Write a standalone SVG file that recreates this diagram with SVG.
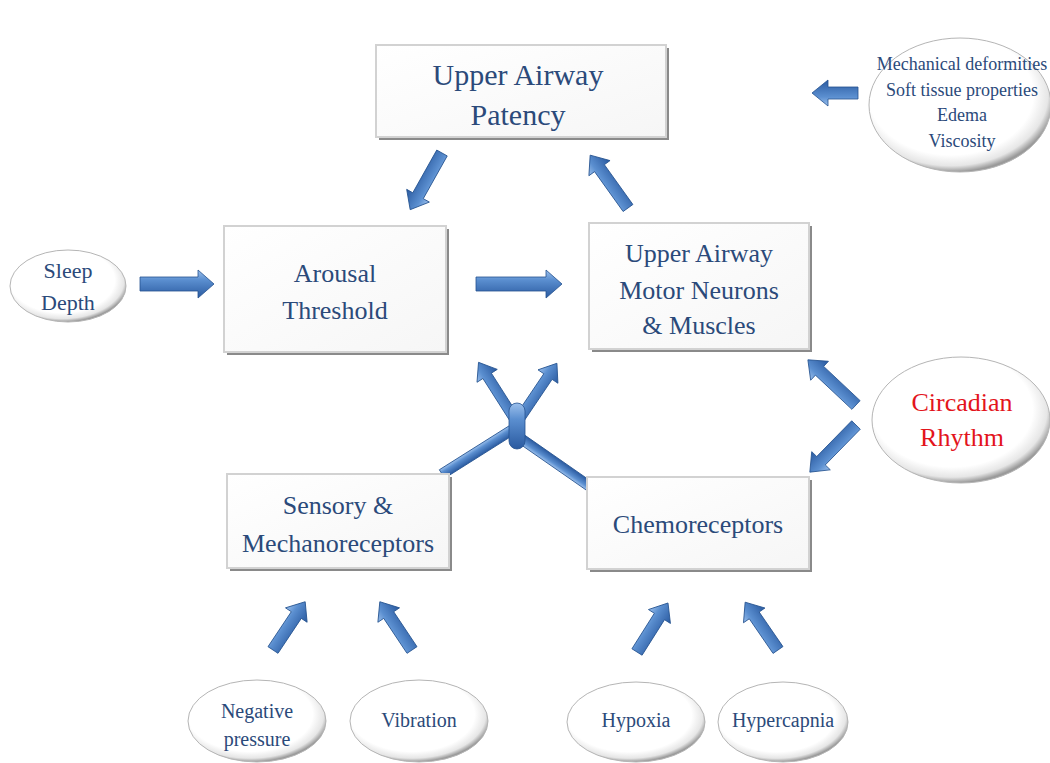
<svg xmlns="http://www.w3.org/2000/svg" width="1050" height="763" viewBox="0 0 1050 763">
<defs>
<linearGradient id="ag" x1="0" y1="0" x2="0" y2="1">
<stop offset="0" stop-color="#9cc0ec"/>
<stop offset="0.35" stop-color="#5b8fd0"/>
<stop offset="1" stop-color="#2a5aa0"/>
</linearGradient>
<linearGradient id="bg" x1="0" y1="0" x2="1" y2="1">
<stop offset="0" stop-color="#ffffff"/>
<stop offset="1" stop-color="#f6f6f6"/>
</linearGradient>
<radialGradient id="eg" cx="0.45" cy="0.42" r="0.58">
<stop offset="0" stop-color="#ffffff"/>
<stop offset="0.78" stop-color="#ffffff"/>
<stop offset="0.92" stop-color="#e6e6e6"/>
<stop offset="1" stop-color="#9a9a9a"/>
</radialGradient>
<style>
.box{fill:url(#bg);stroke:#d2d2d2;stroke-width:2}
.sh{fill:#8a8a8a}
.ell{fill:url(#eg);stroke:#b5b5b5;stroke-width:1}
.t{font-family:"Liberation Serif","Times New Roman",serif;fill:#2b4a7a;text-anchor:middle}
.red{fill:#e3141c}
.arr{fill:url(#ag);stroke:#24528f;stroke-width:0.8}
.br{stroke:url(#ag);stroke-width:10;stroke-linecap:butt;fill:none}
</style>
</defs>
<rect width="1050" height="763" fill="#ffffff"/>

<g id="connectors">
<!-- Mechanical -> Patency -->
<path class="arr" transform="translate(858,93) rotate(180)" d="M0,-6 L30,-6 L30,-13 L46,0 L30,13 L30,6 L0,6 Z"/>
<!-- Patency -> Arousal -->
<path class="arr" transform="translate(442,153) rotate(119.3)" d="M0,-6 L49,-6 L49,-13 L65,0 L49,13 L49,6 L0,6 Z"/>
<!-- Motor -> Patency -->
<path class="arr" transform="translate(628,208) rotate(-125.6)" d="M0,-6 L49,-6 L49,-13 L65,0 L49,13 L49,6 L0,6 Z"/>
<!-- Sleep -> Arousal -->
<path class="arr" transform="translate(140,284)" d="M0,-7 L58,-7 L58,-14 L74,0 L58,14 L58,7 L0,7 Z"/>
<!-- Arousal -> Motor -->
<path class="arr" transform="translate(476,284)" d="M0,-7 L70,-7 L70,-14 L86,0 L70,14 L70,7 L0,7 Z"/>
<!-- Circadian -> Motor -->
<path class="arr" transform="translate(856,405) rotate(-136.8)" d="M0,-6 L50,-6 L50,-13 L66,0 L50,13 L50,6 L0,6 Z"/>
<!-- Circadian -> Chemo -->
<path class="arr" transform="translate(856,425) rotate(134.4)" d="M0,-6 L50,-6 L50,-13 L66,0 L50,13 L50,6 L0,6 Z"/>
<!-- Negative -> Sensory -->
<path class="arr" transform="translate(273,650) rotate(-56.3)" d="M0,-6 L42,-6 L42,-13 L58,0 L42,13 L42,6 L0,6 Z"/>
<!-- Vibration -> Sensory -->
<path class="arr" transform="translate(412,650) rotate(-123.7)" d="M0,-6 L42,-6 L42,-13 L58,0 L42,13 L42,6 L0,6 Z"/>
<!-- Hypoxia -> Chemo -->
<path class="arr" transform="translate(637,652) rotate(-57.7)" d="M0,-6 L42,-6 L42,-13 L58,0 L42,13 L42,6 L0,6 Z"/>
<!-- Hypercapnia -> Chemo -->
<path class="arr" transform="translate(778,650) rotate(-124.5)" d="M0,-6 L42,-6 L42,-13 L58,0 L42,13 L42,6 L0,6 Z"/>
<!-- Y-shaped merge -->
<path class="arr" transform="translate(442,474) rotate(-32.2)" d="M0,-5 L83,-5 L83,5 L0,5 Z"/>
<path class="arr" transform="translate(592,488) rotate(-145.2)" d="M0,-5 L86,-5 L86,5 L0,5 Z"/>
<path class="arr" transform="translate(514,418) rotate(-122.5)" d="M0,-5 L50,-5 L50,-12 L66,0 L50,12 L50,5 L0,5 Z"/>
<path class="arr" transform="translate(520,418) rotate(-56)" d="M0,-5 L50,-5 L50,-12 L66,0 L50,12 L50,5 L0,5 Z"/>
<rect class="arr" x="509" y="403" width="16" height="46" rx="8"/>
</g>

<g id="patency">
<rect class="sh" x="379" y="48" width="290" height="92"/>
<rect class="box" x="376" y="45" width="290" height="92"/>
<text class="t" x="518" y="85" font-size="30">Upper Airway</text>
<text class="t" x="518" y="125" font-size="30">Patency</text>
</g>

<g id="arousal">
<rect class="sh" x="227" y="229" width="222" height="126"/>
<rect class="box" x="224" y="226" width="222" height="126"/>
<text class="t" x="335" y="282" font-size="26">Arousal</text>
<text class="t" x="335" y="319" font-size="26">Threshold</text>
</g>

<g id="motor">
<rect class="sh" x="592" y="226" width="220" height="126"/>
<rect class="box" x="589" y="223" width="220" height="126"/>
<text class="t" x="699" y="262" font-size="26">Upper Airway</text>
<text class="t" x="699" y="299" font-size="26">Motor Neurons</text>
<text class="t" x="699" y="334" font-size="26">&amp; Muscles</text>
</g>

<g id="sensory">
<rect class="sh" x="230" y="477" width="222" height="94"/>
<rect class="box" x="227" y="474" width="222" height="94"/>
<text class="t" x="338" y="514" font-size="26">Sensory &amp;</text>
<text class="t" x="338" y="552" font-size="26">Mechanoreceptors</text>
</g>

<g id="chemo">
<rect class="sh" x="590" y="480" width="222" height="92"/>
<rect class="box" x="587" y="477" width="222" height="92"/>
<text class="t" x="698" y="533" font-size="26">Chemoreceptors</text>
</g>

<g id="mechanical">
<ellipse class="ell" cx="960" cy="105" rx="91" ry="67"/>
<text class="t" x="962" y="70" font-size="18">Mechanical deformities</text>
<text class="t" x="962" y="96" font-size="18">Soft tissue properties</text>
<text class="t" x="962" y="121" font-size="18">Edema</text>
<text class="t" x="962" y="147" font-size="18">Viscosity</text>
</g>

<g id="sleep">
<ellipse class="ell" cx="68" cy="286" rx="58" ry="36"/>
<text class="t" x="68" y="278" font-size="22">Sleep</text>
<text class="t" x="68" y="310" font-size="22">Depth</text>
</g>

<g id="circadian">
<ellipse class="ell" cx="961" cy="420" rx="89" ry="63"/>
<text class="t red" x="962" y="411" font-size="26">Circadian</text>
<text class="t red" x="962" y="446" font-size="26">Rhythm</text>
</g>

<g id="negative">
<ellipse class="ell" cx="257" cy="721" rx="69" ry="41"/>
<text class="t" x="257" y="718" font-size="20">Negative</text>
<text class="t" x="257" y="746" font-size="20">pressure</text>
</g>

<g id="vibration">
<ellipse class="ell" cx="419" cy="721" rx="69" ry="41"/>
<text class="t" x="419" y="727" font-size="20">Vibration</text>
</g>

<g id="hypoxia">
<ellipse class="ell" cx="636" cy="722" rx="69" ry="40"/>
<text class="t" x="636" y="727" font-size="20">Hypoxia</text>
</g>

<g id="hypercapnia">
<ellipse class="ell" cx="783" cy="722" rx="65" ry="40"/>
<text class="t" x="783" y="727" font-size="20">Hypercapnia</text>
</g>
</svg>
